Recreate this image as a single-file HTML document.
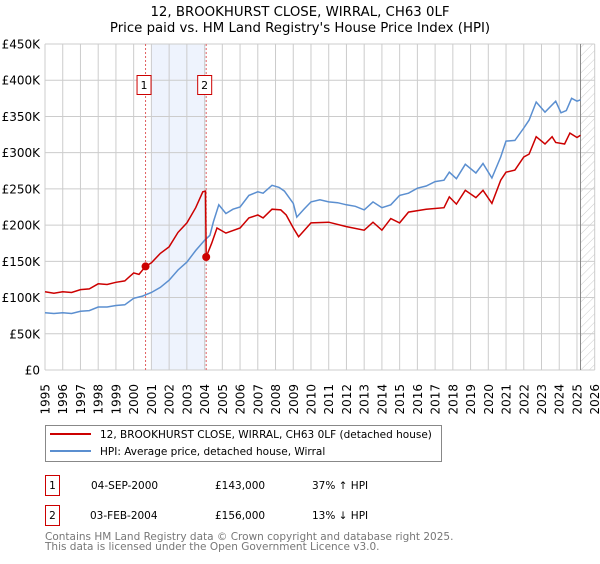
<!DOCTYPE html>
<html><head><meta charset="utf-8"><style>
body{margin:0;background:#fff;font-family:"DejaVu Sans","Liberation Sans",sans-serif;}
svg text{font-family:"DejaVu Sans","Liberation Sans",sans-serif;}
</style></head><body>
<svg id="chart" width="600" height="560" viewBox="0 0 600 560" xmlns="http://www.w3.org/2000/svg">
<defs><pattern id="hatch" width="6" height="6" patternUnits="userSpaceOnUse" patternTransform="rotate(45)"><line x1="0" y1="0" x2="0" y2="6" stroke="#ccc" stroke-width="1"/></pattern></defs>
<text x="300" y="16" text-anchor="middle" font-size="13.3" fill="#000">12, BROOKHURST CLOSE, WIRRAL, CH63 0LF</text>
<text x="300" y="32" text-anchor="middle" font-size="13.3" fill="#000">Price paid vs. HM Land Registry's House Price Index (HPI)</text>
<g id="plot"></g>
<g>
<rect x="45.5" y="425.5" width="396" height="36" fill="#fff" stroke="#888"/>
<line x1="50" y1="434" x2="91" y2="434" stroke="#cc0000" stroke-width="2"/>
<text x="100" y="438" font-size="10.5">12, BROOKHURST CLOSE, WIRRAL, CH63 0LF (detached house)</text>
<line x1="50" y1="451" x2="91" y2="451" stroke="#5b8fd0" stroke-width="2"/>
<text x="100" y="455" font-size="10.5">HPI: Average price, detached house, Wirral</text>
</g>
<g>
<rect x="45.5" y="475.5" width="14" height="20" fill="#fff" stroke="#cc0000"/>
<text x="52.5" y="489" text-anchor="middle" font-size="10.5">1</text>
<text x="91" y="489" font-size="10.5">04-SEP-2000</text>
<text x="215" y="489" font-size="10.5">£143,000</text>
<text x="312" y="489" font-size="10.5">37% ↑ HPI</text>
<rect x="45.5" y="505.5" width="14" height="20" fill="#fff" stroke="#cc0000"/>
<text x="52.5" y="519" text-anchor="middle" font-size="10.5">2</text>
<text x="90" y="519" font-size="10.5">03-FEB-2004</text>
<text x="215" y="519" font-size="10.5">£156,000</text>
<text x="312" y="519" font-size="10.5">13% ↓ HPI</text>
</g>
<text x="45" y="540" font-size="10.5" fill="#777">Contains HM Land Registry data © Crown copyright and database right 2025.</text>
<text x="45" y="550" font-size="10.5" fill="#777">This data is licensed under the Open Government Licence v3.0.</text>
</svg>
<script>
const yTicks=[0,50,100,150,200,250,300,350,400,450];
const yTickLabels=["£0","£50K","£100K","£150K","£200K","£250K","£300K","£350K","£400K","£450K"];
const years=[1995,1996,1997,1998,1999,2000,2001,2002,2003,2004,2005,2006,2007,2008,2009,2010,2011,2012,2013,2014,2015,2016,2017,2018,2019,2020,2021,2022,2023,2024,2025,2026];
const hpiT=[1995,1995.5,1996,1996.5,1997,1997.5,1998,1998.5,1999,1999.5,2000,2000.5,2001,2001.5,2002,2002.5,2003,2003.5,2004,2004.3,2004.5,2004.8,2005.2,2005.6,2006,2006.5,2007,2007.3,2007.8,2008.2,2008.5,2009,2009.2,2009.6,2010,2010.5,2011,2011.5,2012,2012.5,2013,2013.5,2014,2014.5,2015,2015.5,2016,2016.5,2017,2017.5,2017.8,2018.2,2018.7,2019.3,2019.7,2020.2,2020.7,2021,2021.5,2022,2022.3,2022.7,2023.2,2023.8,2024.1,2024.4,2024.7,2025,2025.2];
const hpiV=[79,78,79,78,81,82,87,87,89,90,99,102,107,114,124,138,149,165,179,186,205,228,216,222,225,241,246,244,255,252,247,230,211,222,232,235,232,231,228,226,221,232,224,228,241,244,251,254,260,262,273,264,284,272,285,265,294,316,317,334,345,370,356,371,355,358,375,371,373];
const propT=[1995,1995.5,1996,1996.5,1997,1997.5,1998,1998.5,1999,1999.5,2000,2000.3,2000.67,2001,2001.5,2002,2002.5,2003,2003.5,2003.9,2004.05,2004.09,2004.4,2004.7,2005.2,2006,2006.5,2007,2007.3,2007.8,2008.3,2008.6,2009,2009.3,2010,2011,2012,2013,2013.5,2014,2014.5,2015,2015.5,2016.5,2017.5,2017.8,2018.2,2018.7,2019.3,2019.7,2020.2,2020.7,2021,2021.5,2022,2022.3,2022.7,2023.2,2023.6,2023.8,2024.3,2024.6,2025,2025.2];
const propV=[108,106,108,107,111,112,119,118,121,123,134,132,143,148,161,170,190,203,224,246,247,156,175,196,189,196,210,214,210,222,221,214,196,184,203,204,198,193,204,193,209,203,218,222,224,239,229,248,238,248,230,262,273,276,294,298,322,312,322,314,312,327,321,324];
const saleT=[2000.67,2004.09];
const saleV=[143,156];
const saleLabels=["1","2"];
const NS="http://www.w3.org/2000/svg";
const L=45,R=594.7,T=44,B=370,x0=1995,x1=2026,yMax=450;
const X=t=>L+(t-x0)/(x1-x0)*(R-L);
const Y=v=>B-v/yMax*(B-T);
const g=document.getElementById('plot');
function mk(tag,attrs){const e=document.createElementNS(NS,tag);for(const k in attrs)e.setAttribute(k,attrs[k]);g.appendChild(e);return e;}
let e;
e=mk('rect',{x:X(2001),y:T,width:X(saleT[1])-X(2001),height:B-T,fill:'#eef3fd'});


e=mk('rect',{x:X(2025.2),y:T,width:R-X(2025.2),height:B-T,fill:'url(#hatch)'});


years.forEach(yr=>{
 e=mk('line',{x1:X(yr),x2:X(yr),y1:T,y2:B,stroke:'#ccc','stroke-width':1});
 
 
 const tx=X(yr)+4.5;
 e=mk('text',{x:tx,y:384,'text-anchor':'end','font-size':12,transform:`rotate(-90 ${tx} 384)`});
 e.textContent=yr;
 
 
});
yTicks.forEach((v,i)=>{
 e=mk('line',{x1:L,x2:R,y1:Y(v),y2:Y(v),stroke:'#ccc','stroke-width':1});
 
 
 e=mk('text',{x:40,y:Y(v)+4.5,'text-anchor':'end','font-size':12});
 e.textContent=yTickLabels[i];
 
 
});
e=mk('line',{x1:X(2025.2),x2:X(2025.2),y1:T,y2:B,stroke:'#888','stroke-width':1});


saleT.forEach((t,i)=>{
 e=mk('line',{x1:X(t),x2:X(t),y1:T,y2:B,stroke:'#e06060','stroke-width':1,'stroke-dasharray':'2,2'});
 
 
 e=mk('rect',{x:X(t)-8.5,y:75.5,width:14,height:19,fill:'#fff',stroke:'#cc0000'});
 
 
 e=mk('text',{x:X(t)-1.5,y:89,'text-anchor':'middle','font-size':11});
 e.textContent=saleLabels[i];
 
 
});
e=mk('path',{d:hpiT.map((t,i)=>(i?'L':'M')+X(t).toFixed(1)+','+Y(hpiV[i]).toFixed(1)).join(''),fill:'none',stroke:'#5b8fd0','stroke-width':1.5});


e=mk('path',{d:propT.map((t,i)=>(i?'L':'M')+X(t).toFixed(1)+','+Y(propV[i]).toFixed(1)).join(''),fill:'none',stroke:'#cc0000','stroke-width':1.5});


saleT.forEach((t,i)=>{
 e=mk('circle',{cx:X(t),cy:Y(saleV[i]),r:4,fill:'#cc0000'});
 
 
});
</script>
</body></html>
